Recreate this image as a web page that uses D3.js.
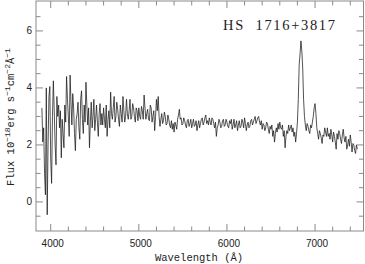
<!DOCTYPE html>
<html>
<head>
<meta charset="utf-8">
<script src="https://cdn.jsdelivr.net/npm/d3@7"></script>
<style>
  html, body { margin: 0; padding: 0; background: #fff; }
  svg { display: block; }
</style>
</head>
<body>
<div class="visual"></div>
<script>

const title = "HS  1716+3817";

// wavelength grid of the spectrum, one row per 100 A
const wavelength = [
  3900, 3910, 3920, 3930, 3940, 3950, 3960, 3970, 3980, 3990,
  4000, 4010, 4020, 4030, 4040, 4050, 4060, 4070, 4080, 4090,
  4100, 4110, 4120, 4130, 4140, 4150, 4160, 4170, 4180, 4190,
  4200, 4210, 4220, 4230, 4240, 4250, 4260, 4270, 4280, 4290,
  4300, 4310, 4320, 4330, 4340, 4350, 4360, 4370, 4380, 4390,
  4400, 4410, 4420, 4430, 4440, 4450, 4460, 4470, 4480, 4490,
  4500, 4510, 4520, 4530, 4540, 4550, 4560, 4570, 4580, 4590,
  4600, 4610, 4620, 4630, 4640, 4650, 4660, 4670, 4680, 4690,
  4700, 4710, 4720, 4730, 4740, 4750, 4760, 4770, 4780, 4790,
  4800, 4810, 4820, 4830, 4840, 4850, 4860, 4870, 4880, 4890,
  4900, 4910, 4920, 4930, 4940, 4950, 4960, 4970, 4980, 4990,
  5000, 5010, 5020, 5030, 5040, 5050, 5060, 5070, 5080, 5090,
  5100, 5110, 5120, 5130, 5140, 5150, 5160, 5170, 5180, 5190,
  5200, 5210, 5220, 5230, 5240, 5250, 5260, 5270, 5280, 5290,
  5300, 5310, 5320, 5330, 5340, 5350, 5360, 5370, 5380, 5390,
  5400, 5410, 5420, 5430, 5440, 5450, 5460, 5470, 5480, 5490,
  5500, 5510, 5520, 5530, 5540, 5550, 5560, 5570, 5580, 5590,
  5600, 5610, 5620, 5630, 5640, 5650, 5660, 5670, 5680, 5690,
  5700, 5710, 5720, 5730, 5740, 5750, 5760, 5770, 5780, 5790,
  5800, 5810, 5820, 5830, 5840, 5850, 5860, 5870, 5880, 5890,
  5900, 5910, 5920, 5930, 5940, 5950, 5960, 5970, 5980, 5990,
  6000, 6010, 6020, 6030, 6040, 6050, 6060, 6070, 6080, 6090,
  6100, 6110, 6120, 6130, 6140, 6150, 6160, 6170, 6180, 6190,
  6200, 6210, 6220, 6230, 6240, 6250, 6260, 6270, 6280, 6290,
  6300, 6310, 6320, 6330, 6340, 6350, 6360, 6370, 6380, 6390,
  6400, 6410, 6420, 6430, 6440, 6450, 6460, 6470, 6480, 6490,
  6500, 6510, 6520, 6530, 6540, 6550, 6560, 6570, 6580, 6590,
  6600, 6610, 6620, 6630, 6640, 6650, 6660, 6670, 6680, 6690,
  6700, 6710, 6720, 6730, 6740, 6750, 6760, 6770, 6780, 6790,
  6800, 6810, 6820, 6830, 6840, 6850, 6860, 6870, 6880, 6890,
  6900, 6910, 6920, 6930, 6940, 6950, 6960, 6970, 6980, 6990,
  7000, 7010, 7020, 7030, 7040, 7050, 7060, 7070, 7080, 7090,
  7100, 7110, 7120, 7130, 7140, 7150, 7160, 7170, 7180, 7190,
  7200, 7210, 7220, 7230, 7240, 7250, 7260, 7270, 7280, 7290,
  7300, 7310, 7320, 7330, 7340, 7350, 7360, 7370, 7380, 7390,
  7400, 7410, 7420, 7430, 7440, 7450, 7460, 7470, 7480
];

// flux in 1e-18 erg/s/cm2/A, same rows as above
const flux = [
  3.3, 2.1, 2.6, 1.0, 0.25, 4.0, -0.45, 2.0, 3.7, 4.05,
  1.5, 0.65, 3.0, 4.25, 3.2, 2.0, 1.3, 3.7, 3.0, 3.4,
  2.6, 3.2, 1.55, 2.9, 2.4, 1.9, 3.4, 2.8, 4.4, 3.6,
  3.0, 2.3, 4.45, 3.5, 2.7, 3.8, 3.3, 2.4, 1.8, 2.9,
  3.1, 3.5, 2.6, 2.2, 3.6, 3.9, 2.9, 2.4, 3.4, 2.8,
  4.2, 3.4, 2.7, 3.3, 1.9, 2.8, 3.5, 2.6, 3.0, 3.6,
  2.5, 2.9, 3.4, 2.8, 2.3, 3.1, 3.45, 2.7, 3.1, 2.7,
  3.3, 2.9, 2.6, 3.4, 2.3, 2.9, 3.2, 2.6, 3.85, 3.1,
  2.9, 3.3, 3.7, 2.8, 3.0, 3.5, 3.25, 2.9, 2.65, 3.4,
  3.1, 2.8, 3.7, 3.2, 2.8, 3.0, 3.6, 3.1, 2.9, 3.2,
  3.6, 2.9, 3.0, 3.45, 3.3, 3.0, 2.8, 3.3, 3.2, 2.85,
  3.3, 3.0, 2.9, 3.35, 3.2, 2.9, 3.75, 3.3, 2.9, 3.1,
  3.25, 2.9, 2.85, 3.4, 3.3, 2.8, 3.0, 3.2, 2.5, 3.0,
  3.6, 3.2, 3.7, 3.0, 2.65, 2.9, 3.1, 2.75, 2.85, 3.15,
  3.0, 2.7, 2.75, 3.05, 2.9, 2.7, 2.6, 2.85, 2.55, 2.75,
  2.45, 2.8, 2.7, 2.55, 2.9, 3.05, 3.25, 2.9, 2.95, 2.7,
  2.75, 2.95, 2.85, 2.7, 2.6, 2.85, 2.9, 2.65, 2.75, 2.9,
  2.6, 2.75, 2.9, 2.65, 2.7, 2.85, 2.5, 2.7, 2.85, 2.6,
  2.75, 2.9, 2.95, 2.7, 2.8, 2.95, 3.05, 2.75, 2.85, 2.7,
  2.95, 2.8, 2.7, 2.95, 2.9, 2.75, 2.6, 2.8, 2.3, 2.6,
  2.7, 2.9, 2.8, 2.6, 2.65, 2.85, 2.9, 2.65, 2.7, 2.9,
  2.8, 2.65, 2.6, 2.85, 2.75, 2.9, 2.55, 2.7, 2.9, 2.6,
  2.7, 2.85, 2.5, 2.7, 2.85, 2.6, 2.65, 2.9, 2.8, 2.6,
  2.95, 2.75, 2.5, 2.7, 2.8, 2.6, 2.65, 2.85, 2.9, 2.7,
  2.8, 2.9, 3.0, 2.75, 2.85, 2.95, 3.0, 2.8, 2.7, 2.85,
  2.55, 2.75, 2.7, 2.5, 2.6, 2.8, 2.75, 2.55, 2.4, 2.65,
  2.55, 2.7, 2.3, 2.5, 2.1, 2.4, 2.6, 2.45, 2.75, 2.55,
  2.8, 2.6, 2.55, 2.7, 2.3, 2.5, 1.9, 2.3, 2.5, 2.4,
  2.7, 2.5, 2.6, 2.7, 2.45, 2.6, 2.3, 2.45, 2.1, 2.4,
  2.8, 3.6, 4.8, 5.2, 5.65, 5.3, 4.7, 3.6, 3.0, 2.7,
  2.5, 2.75, 2.65, 2.5, 2.4, 2.7, 2.6, 2.8, 3.0, 3.3,
  3.45, 3.1, 2.6, 2.4, 2.2, 2.5, 2.4, 2.25, 2.05, 2.35,
  2.3, 2.6, 2.45, 2.3, 2.6, 2.3, 2.4, 2.2, 2.55, 2.35,
  2.1, 2.45, 2.3, 2.1, 1.85, 2.4, 2.2, 2.5, 2.4, 2.2,
  2.05, 2.35, 2.55, 2.25, 2.1, 2.3, 1.85, 2.0, 2.2, 1.95,
  2.35, 2.1, 1.75, 2.05, 2.0, 1.8, 1.7, 2.0, 1.85
];

const xMajorTicks = [4000, 5000, 6000, 7000];
const xMinorTicks = [4200, 4400, 4600, 4800, 5200, 5400, 5600, 5800,
                     6200, 6400, 6600, 6800, 7200, 7400];
const yMajorTicks = [0, 2, 4, 6];
const yMinorTicks = [-0.5, 0.5, 1, 1.5, 2.5, 3, 3.5, 4.5, 5, 5.5, 6.5];

const width = 365;
const height = 264;
const frameColor = "#8a8a8a";

function display() {

  const svg = d3.select(".visual")
    .append("svg")
    .attr("width", width)
    .attr("height", height);

  const x = d3.scaleLinear().domain([3833, 7550]).range([36, 363.5]);
  const y = d3.scaleLinear().domain([-1.02, 7.05]).range([231, 1]);

  const [x0, x1] = x.range();
  const [y0, y1] = y.range();

  // frame
  svg.append("rect")
    .attr("x", x0)
    .attr("y", y1)
    .attr("width", x1 - x0)
    .attr("height", y0 - y1)
    .attr("fill", "none")
    .attr("stroke", frameColor)
    .attr("stroke-width", 1);

  // inward ticks on all four sides
  const xt = xMajorTicks.map(v => ({ v, len: 7 }))
    .concat(xMinorTicks.map(v => ({ v, len: 4.5 })));
  const yt = yMajorTicks.map(v => ({ v, len: 7 }))
    .concat(yMinorTicks.map(v => ({ v, len: 4.5 })));

  const ticks = svg.append("g")
    .attr("stroke", frameColor)
    .attr("stroke-width", 1);

  xt.forEach(t => {
    const px = x(t.v);
    ticks.append("line").attr("x1", px).attr("x2", px).attr("y1", y0).attr("y2", y0 - t.len);
    ticks.append("line").attr("x1", px).attr("x2", px).attr("y1", y1).attr("y2", y1 + t.len);
  });
  yt.forEach(t => {
    const py = y(t.v);
    ticks.append("line").attr("x1", x0).attr("x2", x0 + t.len).attr("y1", py).attr("y2", py);
    ticks.append("line").attr("x1", x1).attr("x2", x1 - t.len).attr("y1", py).attr("y2", py);
  });

  // tick labels
  svg.append("g")
    .selectAll("text")
    .data(xMajorTicks)
    .enter()
    .append("text")
    .attr("x", d => x(d) + 2)
    .attr("y", 247)
    .attr("text-anchor", "middle")
    .style("font-family", "'Liberation Sans', Arial, sans-serif")
    .style("font-size", "10px")
    .style("fill", "#222")
    .text(d => d);

  svg.append("g")
    .selectAll("text")
    .data(yMajorTicks)
    .enter()
    .append("text")
    .attr("x", 32)
    .attr("y", d => y(d))
    .attr("text-anchor", "end")
    .attr("dominant-baseline", "central")
    .style("font-family", "'Liberation Sans', Arial, sans-serif")
    .style("font-size", "10px")
    .style("fill", "#222")
    .text(d => d);

  // spectrum
  const points = wavelength.map((w, i) => [w, flux[i]]);
  const line = d3.line().x(d => x(d[0])).y(d => y(d[1]));

  svg.append("path")
    .datum(points)
    .attr("d", line)
    .attr("fill", "none")
    .attr("stroke", "#1a1a1a")
    .attr("stroke-width", 0.75)
    .attr("stroke-linejoin", "round");

  // axis titles
  svg.append("text")
    .attr("x", 199)
    .attr("y", 261)
    .attr("text-anchor", "middle")
    .style("font-family", "'Courier New', 'Liberation Mono', monospace")
    .style("font-size", "10.5px")
    .style("fill", "#222")
    .text("Wavelength (\u00c5)");

  const yl = svg.append("text")
    .attr("transform", "translate(13.5,117) rotate(-90)")
    .attr("text-anchor", "middle")
    .style("font-family", "'Courier New', 'Liberation Mono', monospace")
    .style("font-size", "10.5px")
    .style("fill", "#222");

  const parts = [
    ["Flux 10", false], ["\u221218", true], ["erg s", false], ["\u22121", true],
    ["cm", false], ["\u22122", true], ["\u00c5", false], ["\u22121", true]
  ];
  let shifted = false;
  parts.forEach(([s, sup]) => {
    const ts = yl.append("tspan").text(s);
    if (sup && !shifted) { ts.attr("dy", -4).style("font-size", "8px"); shifted = true; }
    else if (sup) { ts.style("font-size", "8px"); }
    else if (shifted) { ts.attr("dy", 4); shifted = false; }
  });

  // object name
  svg.append("text")
    .attr("x", 223)
    .attr("y", 30)
    .attr("textLength", 112)
    .attr("lengthAdjust", "spacing")
    .style("white-space", "pre")
    .style("font-family", "'Liberation Serif', 'Times New Roman', serif")
    .style("font-size", "14.5px")
    .style("fill", "#222")
    .text(title);
}

display();
</script>
</body>
</html>
